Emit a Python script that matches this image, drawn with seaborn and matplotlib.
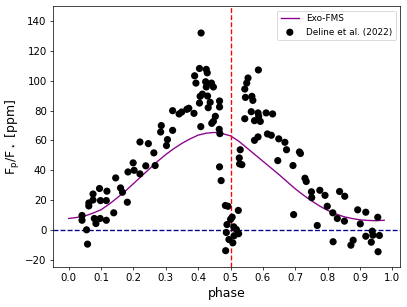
import numpy as np
import pandas as pd
import seaborn as sns
import matplotlib.pyplot as plt

# Exo-FMS model curve
model_phase = [0.0, 0.025, 0.05, 0.075, 0.1, 0.125, 0.15, 0.175, 0.2, 0.225,
               0.25, 0.275, 0.3, 0.325, 0.35, 0.375, 0.4, 0.425, 0.45, 0.475,
               0.5, 0.525, 0.55, 0.575, 0.6, 0.625, 0.65, 0.675, 0.7, 0.725,
               0.75, 0.775, 0.8, 0.825, 0.85, 0.875, 0.9, 0.925, 0.95, 0.975]
model_flux = [7.6, 8.3, 9.3, 11.2, 13.5, 17.2, 21.5, 26.0, 31.0, 36.0,
              41.0, 46.0, 50.5, 54.5, 58.0, 61.0, 63.5, 64.8, 65.3, 64.5,
              63.0, 59.5, 55.0, 50.5, 46.0, 41.5, 37.0, 32.2, 27.5, 23.3,
              19.5, 16.0, 13.0, 10.7, 8.8, 7.6, 6.7, 6.3, 6.1, 6.4]

# Deline et al. (2022) observations
obs_phase = [
    0.041, 0.041, 0.055, 0.058, 0.062, 0.062, 0.075, 0.075, 0.079, 0.084,
    0.095, 0.097, 0.098, 0.116, 0.118, 0.116, 0.139, 0.145, 0.160, 0.166,
    0.181, 0.183, 0.199, 0.202, 0.220, 0.238, 0.263, 0.267, 0.220, 0.246,
    0.286, 0.284, 0.302, 0.305, 0.321, 0.321, 0.341, 0.349, 0.365, 0.371,
    0.387, 0.389, 0.393, 0.404, 0.406, 0.404, 0.409, 0.408, 0.413, 0.425,
    0.428, 0.423, 0.425, 0.441, 0.447, 0.429, 0.437, 0.466, 0.466, 0.431,
    0.453, 0.447, 0.442, 0.465, 0.467, 0.466, 0.471,
    0.484, 0.492, 0.524, 0.505, 0.500, 0.489, 0.510, 0.518, 0.487, 0.525,
    0.511, 0.495, 0.507, 0.485,
    0.530, 0.527, 0.528, 0.535, 0.586, 0.554, 0.550, 0.544, 0.546, 0.566,
    0.569, 0.564, 0.544, 0.585, 0.587, 0.574, 0.592, 0.610, 0.630, 0.585,
    0.574, 0.614, 0.626, 0.649, 0.668, 0.673, 0.713, 0.716, 0.646, 0.693,
    0.695, 0.730, 0.734, 0.750, 0.751, 0.776, 0.792, 0.768, 0.799, 0.816,
    0.817, 0.830, 0.837, 0.853, 0.852, 0.879, 0.872, 0.893, 0.901, 0.918,
    0.918, 0.938, 0.935, 0.940, 0.955, 0.960, 0.956,
]
obs_flux = [
    9.6, 6.4, 0.0, -9.6, 18.0, 16.0, 24.0, 20.0, 7.6, 4.2,
    27.7, 7.6, 19.6, 19.6, 25.9, 6.4, 11.4, 34.8, 28.1, 25.2,
    18.5, 38.8, 44.9, 39.9, 37.5, 42.9, 51.6, 43.1, 58.9, 57.8,
    69.9, 65.6, 56.5, 60.5, 66.7, 79.9, 77.7, 79.0, 80.8, 81.5,
    78.1, 103.3, 98.4, 85.0, 89.5, 108.2, 132.0, 69.2, 91.0, 107.6,
    105.3, 99.3, 95.8, 98.4, 95.8, 89.7, 85.5, 86.4, 82.4, 81.9,
    76.1, 72.7, 71.4, 67.4, 64.5, 42.2, 33.0,
    16.3, 15.8, 13.0, 8.5, 7.0, 3.5, 2.0, 0.2, -1.8, -2.6,
    -4.0, -6.5, -8.7, -14.0,
    53.7, 48.2, 44.2, 43.7, 107.2, 101.8, 98.4, 94.4, 88.8, 89.5,
    86.8, 79.2, 74.5, 78.4, 76.1, 73.2, 72.7, 78.4, 77.7, 62.3,
    60.0, 64.3, 63.4, 61.0, 58.7, 53.7, 52.2, 51.2, 46.4, 43.1,
    10.2, 34.6, 32.4, 25.5, 21.6, 26.5, 23.1, 2.9, 15.8, 11.4,
    -8.0, 7.6, 25.7, 22.5, 5.8, -7.0, -10.3, 13.4, 4.0, 11.8,
    -4.3, -0.9, -8.3, -3.6, 8.4, -3.8, -14.7,
]

x_ticks = np.round(np.arange(0.0, 1.01, 0.1), 1)
y_ticks = list(range(-20, 141, 20))

model = pd.DataFrame({"phase": model_phase, "flux": model_flux})
obs = pd.DataFrame({"phase": obs_phase, "flux": obs_flux})

fig, ax = plt.subplots(figsize=(407 / 64, 307 / 64), dpi=64)
fig.subplots_adjust(left=0.130, right=0.983, top=0.980, bottom=0.130)

sns.lineplot(data=model, x="phase", y="flux", color="darkmagenta", lw=1.5,
             label="Exo-FMS", ax=ax)
sns.scatterplot(data=obs, x="phase", y="flux", color="black", s=65,
                edgecolor="none", label="Deline et al. (2022)", ax=ax, zorder=3)

ax.axvline(0.5, color="red", ls="--", lw=1.5)
ax.axhline(0, color="darkblue", ls="--", lw=1.5)

ax.set_xlim(-0.049, 1.024)
ax.set_ylim(-25, 150)
ax.set_xticks(x_ticks)
ax.set_yticks(y_ticks)
ax.tick_params(labelsize=11.5)
ax.set_xlabel("phase", fontsize=14)
ax.set_ylabel(r"$\rm F_p/F_\star$ [ppm]", fontsize=14)
ax.legend(loc="upper right", fontsize=10)

fig.savefig("out.png", dpi=64)
